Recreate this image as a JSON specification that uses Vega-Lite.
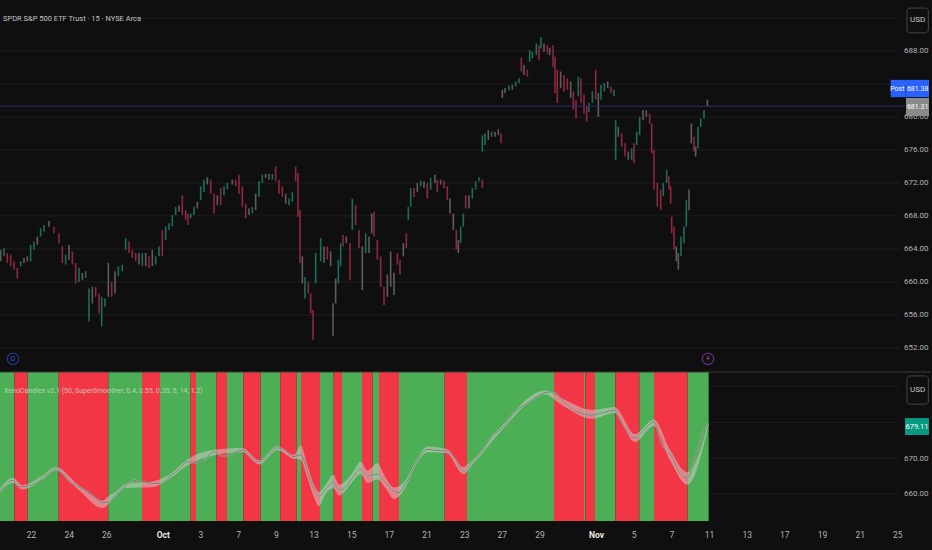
{"$schema":"https://vega.github.io/schema/vega-lite/v6.json","padding":{"left":-5,"top":0,"right":0,"bottom":0},"background":"#0f0f0f","spacing":0,"config":{"view":{"stroke":null},"concat":{"spacing":0},"font":"Roboto","text":{"font":"Roboto"}},"resolve":{"scale":{"color":"independent"}},
"datasets":{
"candles":[
{"t":-91,"p":663.9,"p2":662.5,"d":"n"},{"t":-81,"p":664.1,"p2":663.1,"d":"u"},{"t":-71,"p":663.5,"p2":662.3,"d":"d"},{"t":-61,"p":663.3,"p2":661.9,"d":"d"},{"t":-51,"p":662.5,"p2":661.5,"d":"d"},{"t":-41,"p":661.7,"p2":660.4,"d":"d"},{"t":-31,"p":662.5,"p2":661.9,"d":"u"},{"t":-21,"p":662.9,"p2":662.3,"d":"n"},{"t":-11,"p":663.1,"p2":662.5,"d":"n"},{"t":-1,"p":664.5,"p2":662.5,"d":"u"},{"t":9,"p":664.9,"p2":663.9,"d":"u"},{"t":19,"p":665.5,"p2":664.5,"d":"n"},{"t":29,"p":666.5,"p2":665.5,"d":"u"},{"t":39,"p":666.9,"p2":666.1,"d":"u"},{"t":54,"p":667.4,"p2":666.7,"d":"n"},{"t":69,"p":666.7,"p2":665.9,"d":"d"},{"t":84,"p":665.9,"p2":664.7,"d":"d"},{"t":94,"p":664.3,"p2":662.3,"d":"d"},{"t":104,"p":663.3,"p2":662.1,"d":"u"},{"t":114,"p":664.5,"p2":662.7,"d":"n"},{"t":124,"p":663.7,"p2":662.1,"d":"d"},{"t":134,"p":662.3,"p2":659.8,"d":"d"},{"t":144,"p":661.7,"p2":660.0,"d":"u"},{"t":154,"p":661.1,"p2":660.2,"d":"n"},{"t":164,"p":661.3,"p2":660.5,"d":"u"},{"t":174,"p":659.2,"p2":655.2,"d":"u"},{"t":184,"p":659.4,"p2":657.4,"d":"n"},{"t":194,"p":659.4,"p2":658.2,"d":"d"},{"t":204,"p":658.6,"p2":656.2,"d":"d"},{"t":212,"p":658.2,"p2":654.6,"d":"u"},{"t":222,"p":658.0,"p2":657.0,"d":"u"},{"t":232,"p":662.3,"p2":658.2,"d":"n"},{"t":242,"p":660.0,"p2":658.2,"d":"d"},{"t":252,"p":661.3,"p2":658.6,"d":"n"},{"t":262,"p":661.9,"p2":660.7,"d":"u"},{"t":274,"p":662.1,"p2":661.3,"d":"u"},{"t":284,"p":665.3,"p2":663.9,"d":"u"},{"t":294,"p":664.9,"p2":663.5,"d":"d"},{"t":304,"p":663.9,"p2":662.9,"d":"d"},{"t":314,"p":663.5,"p2":662.5,"d":"d"},{"t":324,"p":663.5,"p2":662.1,"d":"n"},{"t":334,"p":663.5,"p2":661.9,"d":"u"},{"t":344,"p":663.5,"p2":661.9,"d":"n"},{"t":354,"p":663.1,"p2":661.7,"d":"d"},{"t":364,"p":663.9,"p2":661.9,"d":"n"},{"t":374,"p":663.1,"p2":662.1,"d":"u"},{"t":384,"p":664.3,"p2":663.1,"d":"u"},{"t":394,"p":666.3,"p2":663.1,"d":"d"},{"t":404,"p":666.7,"p2":665.1,"d":"u"},{"t":414,"p":667.1,"p2":666.3,"d":"u"},{"t":424,"p":668.1,"p2":666.7,"d":"u"},{"t":434,"p":669.1,"p2":668.1,"d":"u"},{"t":444,"p":669.3,"p2":668.5,"d":"n"},{"t":454,"p":670.5,"p2":668.1,"d":"d"},{"t":464,"p":668.7,"p2":667.5,"d":"d"},{"t":471,"p":668.3,"p2":666.9,"d":"d"},{"t":479,"p":668.3,"p2":667.7,"d":"u"},{"t":489,"p":669.1,"p2":668.1,"d":"u"},{"t":499,"p":669.7,"p2":668.9,"d":"n"},{"t":509,"p":671.6,"p2":669.9,"d":"u"},{"t":519,"p":672.4,"p2":670.9,"d":"u"},{"t":529,"p":672.7,"p2":671.8,"d":"n"},{"t":539,"p":672.4,"p2":670.7,"d":"d"},{"t":549,"p":670.7,"p2":668.3,"d":"d"},{"t":559,"p":670.5,"p2":669.3,"d":"n"},{"t":569,"p":671.4,"p2":669.3,"d":"d"},{"t":579,"p":671.6,"p2":670.5,"d":"u"},{"t":589,"p":672.0,"p2":671.2,"d":"u"},{"t":604,"p":672.4,"p2":671.8,"d":"n"},{"t":614,"p":672.4,"p2":671.6,"d":"d"},{"t":624,"p":673.0,"p2":670.7,"d":"d"},{"t":634,"p":671.6,"p2":669.1,"d":"d"},{"t":644,"p":669.5,"p2":667.7,"d":"d"},{"t":654,"p":668.9,"p2":668.1,"d":"n"},{"t":664,"p":669.1,"p2":668.3,"d":"u"},{"t":674,"p":670.7,"p2":668.7,"d":"n"},{"t":684,"p":672.2,"p2":670.3,"d":"u"},{"t":694,"p":673.0,"p2":672.0,"d":"u"},{"t":704,"p":673.1,"p2":672.6,"d":"n"},{"t":714,"p":673.1,"p2":672.4,"d":"n"},{"t":724,"p":673.1,"p2":672.4,"d":"u"},{"t":734,"p":674.0,"p2":672.2,"d":"d"},{"t":744,"p":672.4,"p2":670.7,"d":"d"},{"t":754,"p":671.6,"p2":670.3,"d":"d"},{"t":764,"p":670.7,"p2":669.5,"d":"n"},{"t":774,"p":670.1,"p2":669.3,"d":"u"},{"t":784,"p":670.9,"p2":669.7,"d":"u"},{"t":794,"p":674.0,"p2":672.2,"d":"d"},{"t":801,"p":673.2,"p2":667.9,"d":"d"},{"t":807,"p":668.7,"p2":662.3,"d":"d"},{"t":814,"p":663.1,"p2":659.8,"d":"n"},{"t":822,"p":660.6,"p2":658.0,"d":"u"},{"t":832,"p":660.0,"p2":658.6,"d":"d"},{"t":839,"p":658.6,"p2":656.2,"d":"d"},{"t":846,"p":656.6,"p2":653.0,"d":"d"},{"t":854,"p":663.5,"p2":659.8,"d":"u"},
{"t":869,"p":665.3,"p2":662.5,"d":"u"},{"t":879,"p":664.3,"p2":662.3,"d":"n"},{"t":889,"p":664.3,"p2":662.7,"d":"d"},{"t":899,"p":663.7,"p2":661.9,"d":"n"},{"t":906,"p":657.4,"p2":653.4,"d":"n"},{"t":914,"p":660.4,"p2":657.4,"d":"n"},{"t":922,"p":662.7,"p2":659.8,"d":"u"},{"t":929,"p":664.7,"p2":661.9,"d":"u"},{"t":936,"p":665.7,"p2":664.3,"d":"d"},{"t":946,"p":665.5,"p2":664.7,"d":"n"},{"t":957,"p":664.7,"p2":660.2,"d":"d"},{"t":964,"p":670.1,"p2":666.3,"d":"u"},{"t":974,"p":669.3,"p2":666.9,"d":"d"},{"t":984,"p":666.3,"p2":664.1,"d":"d"},{"t":994,"p":664.3,"p2":659.0,"d":"n"},{"t":1004,"p":665.9,"p2":663.5,"d":"u"},{"t":1014,"p":665.5,"p2":663.5,"d":"n"},{"t":1022,"p":668.3,"p2":665.9,"d":"n"},{"t":1029,"p":668.5,"p2":665.5,"d":"d"},{"t":1039,"p":665.1,"p2":662.7,"d":"d"},{"t":1049,"p":663.1,"p2":659.4,"d":"d"},{"t":1059,"p":659.4,"p2":657.2,"d":"d"},{"t":1069,"p":660.9,"p2":658.2,"d":"n"},{"t":1079,"p":663.7,"p2":659.4,"d":"n"},{"t":1089,"p":661.1,"p2":658.4,"d":"n"},{"t":1099,"p":663.5,"p2":662.1,"d":"d"},{"t":1107,"p":662.7,"p2":660.9,"d":"d"},{"t":1117,"p":664.7,"p2":663.1,"d":"n"},{"t":1126,"p":665.9,"p2":664.1,"d":"d"},{"t":1132,"p":669.1,"p2":667.5,"d":"u"},{"t":1139,"p":671.4,"p2":669.1,"d":"u"},{"t":1149,"p":671.4,"p2":670.3,"d":"d"},{"t":1159,"p":672.0,"p2":670.9,"d":"n"},{"t":1169,"p":672.3,"p2":671.6,"d":"u"},{"t":1179,"p":672.2,"p2":671.4,"d":"n"},{"t":1189,"p":672.0,"p2":670.1,"d":"d"},{"t":1199,"p":672.6,"p2":671.2,"d":"u"},{"t":1212,"p":673.0,"p2":672.0,"d":"n"},{"t":1219,"p":672.4,"p2":670.9,"d":"d"},{"t":1229,"p":672.4,"p2":671.8,"d":"n"},{"t":1239,"p":672.3,"p2":671.4,"d":"d"},{"t":1249,"p":671.6,"p2":669.9,"d":"d"},{"t":1257,"p":670.1,"p2":668.3,"d":"n"},{"t":1267,"p":668.3,"p2":666.3,"d":"n"},{"t":1276,"p":666.3,"p2":663.9,"d":"d"},{"t":1282,"p":665.1,"p2":663.5,"d":"n"},{"t":1289,"p":666.7,"p2":664.7,"d":"u"},{"t":1297,"p":668.3,"p2":666.7,"d":"u"},{"t":1304,"p":670.5,"p2":668.9,"d":"d"},{"t":1314,"p":670.5,"p2":668.9,"d":"n"},{"t":1324,"p":671.4,"p2":670.1,"d":"u"},{"t":1334,"p":672.2,"p2":671.2,"d":"u"},{"t":1344,"p":672.7,"p2":672.2,"d":"u"},{"t":1354,"p":672.4,"p2":671.4,"d":"d"},
{"t":1354,"p":677.8,"p2":675.8,"d":"u"},{"t":1362,"p":678.0,"p2":676.6,"d":"u"},{"t":1372,"p":678.4,"p2":677.2,"d":"n"},{"t":1382,"p":678.2,"p2":677.6,"d":"u"},{"t":1392,"p":678.2,"p2":677.6,"d":"n"},{"t":1402,"p":678.5,"p2":677.8,"d":"n"},{"t":1410,"p":678.0,"p2":676.8,"d":"d"},{"t":1414,"p":683.3,"p2":682.3,"d":"n"},{"t":1422,"p":683.5,"p2":682.9,"d":"n"},{"t":1434,"p":683.8,"p2":683.2,"d":"u"},{"t":1444,"p":683.9,"p2":683.3,"d":"n"},{"t":1454,"p":684.3,"p2":683.7,"d":"u"},{"t":1464,"p":684.7,"p2":684.1,"d":"u"},{"t":1471,"p":687.2,"p2":685.5,"d":"d"},{"t":1479,"p":686.3,"p2":685.1,"d":"n"},{"t":1489,"p":685.7,"p2":684.9,"d":"d"},{"t":1496,"p":688.1,"p2":686.7,"d":"u"},{"t":1504,"p":687.9,"p2":687.1,"d":"u"},{"t":1516,"p":688.9,"p2":687.5,"d":"u"},{"t":1524,"p":688.7,"p2":686.9,"d":"d"},{"t":1530,"p":689.7,"p2":688.3,"d":"u"},{"t":1539,"p":688.9,"p2":687.9,"d":"n"},{"t":1549,"p":688.7,"p2":687.7,"d":"d"},{"t":1556,"p":688.4,"p2":687.5,"d":"n"},{"t":1566,"p":688.7,"p2":686.1,"d":"d"},{"t":1572,"p":687.3,"p2":682.9,"d":"d"},{"t":1579,"p":685.7,"p2":681.7,"d":"d"},{"t":1589,"p":685.5,"p2":683.5,"d":"n"},{"t":1599,"p":685.1,"p2":683.1,"d":"d"},{"t":1609,"p":684.7,"p2":683.3,"d":"d"},{"t":1619,"p":684.3,"p2":682.3,"d":"n"},{"t":1627,"p":683.1,"p2":680.9,"d":"d"},{"t":1635,"p":682.1,"p2":679.8,"d":"d"},{"t":1642,"p":684.9,"p2":682.5,"d":"u"},{"t":1650,"p":684.7,"p2":681.7,"d":"d"},{"t":1659,"p":682.7,"p2":680.4,"d":"d"},{"t":1667,"p":681.3,"p2":679.4,"d":"d"},{"t":1674,"p":681.7,"p2":680.6,"d":"u"},{"t":1684,"p":683.1,"p2":681.7,"d":"u"},{"t":1694,"p":685.7,"p2":682.1,"d":"d"},{"t":1702,"p":682.9,"p2":680.0,"d":"n"},{"t":1710,"p":683.9,"p2":682.1,"d":"u"},{"t":1720,"p":684.1,"p2":683.1,"d":"u"},{"t":1730,"p":684.3,"p2":683.5,"d":"n"},{"t":1740,"p":683.7,"p2":682.9,"d":"d"},{"t":1749,"p":683.3,"p2":682.5,"d":"u"},
{"t":1754,"p":679.6,"p2":674.8,"d":"u"},{"t":1762,"p":678.8,"p2":677.6,"d":"n"},{"t":1772,"p":678.0,"p2":676.4,"d":"d"},{"t":1782,"p":676.8,"p2":675.2,"d":"d"},{"t":1792,"p":675.8,"p2":674.8,"d":"n"},{"t":1802,"p":676.2,"p2":674.8,"d":"u"},{"t":1809,"p":676.8,"p2":674.4,"d":"d"},{"t":1817,"p":678.2,"p2":676.6,"d":"u"},{"t":1826,"p":680.0,"p2":677.8,"d":"u"},{"t":1836,"p":680.8,"p2":679.6,"d":"n"},{"t":1846,"p":680.8,"p2":680.0,"d":"n"},{"t":1856,"p":680.4,"p2":679.2,"d":"d"},{"t":1862,"p":679.2,"p2":675.6,"d":"d"},{"t":1869,"p":676.0,"p2":671.2,"d":"d"},{"t":1879,"p":672.0,"p2":669.1,"d":"d"},{"t":1889,"p":671.2,"p2":668.7,"d":"d"},{"t":1897,"p":672.0,"p2":670.4,"d":"u"},{"t":1907,"p":673.6,"p2":672.0,"d":"u"},{"t":1914,"p":672.8,"p2":671.2,"d":"d"},{"t":1919,"p":671.6,"p2":669.5,"d":"d"},{"t":1922,"p":667.9,"p2":665.9,"d":"d"},{"t":1929,"p":666.7,"p2":663.9,"d":"d"},{"t":1936,"p":664.3,"p2":662.5,"d":"n"},{"t":1942,"p":663.5,"p2":661.5,"d":"n"},{"t":1950,"p":665.5,"p2":663.1,"d":"u"},{"t":1959,"p":666.7,"p2":664.7,"d":"u"},{"t":1966,"p":669.9,"p2":666.7,"d":"u"},{"t":1974,"p":671.2,"p2":668.7,"d":"n"},{"t":1981,"p":679.2,"p2":676.8,"d":"n"},{"t":1989,"p":677.6,"p2":675.8,"d":"d"},{"t":1994,"p":676.4,"p2":675.2,"d":"n"},{"t":2001,"p":678.8,"p2":676.2,"d":"u"},{"t":2009,"p":679.8,"p2":678.8,"d":"u"},{"t":2019,"p":680.8,"p2":679.8,"d":"u"},{"t":2029,"p":682.1,"p2":681.3,"d":"n"}
],
"bands":[{"t":-96,"t2":-50,"s":"g","p":694.1,"p2":652.35},{"t":-50,"t2":-10,"s":"r","p":694.1,"p2":652.35},{"t":-10,"t2":83,"s":"g","p":694.1,"p2":652.35},{"t":83,"t2":232,"s":"r","p":694.1,"p2":652.35},{"t":232,"t2":333,"s":"g","p":694.1,"p2":652.35},{"t":333,"t2":387,"s":"r","p":694.1,"p2":652.35},{"t":387,"t2":479,"s":"g","p":694.1,"p2":652.35},{"t":479,"t2":495,"s":"r","p":694.1,"p2":652.35},{"t":495,"t2":556,"s":"g","p":694.1,"p2":652.35},{"t":556,"t2":588,"s":"r","p":694.1,"p2":652.35},{"t":588,"t2":637,"s":"g","p":694.1,"p2":652.35},{"t":637,"t2":689,"s":"r","p":694.1,"p2":652.35},{"t":689,"t2":748,"s":"g","p":694.1,"p2":652.35},{"t":748,"t2":797,"s":"r","p":694.1,"p2":652.35},{"t":797,"t2":810,"s":"g","p":694.1,"p2":652.35},{"t":810,"t2":867,"s":"r","p":694.1,"p2":652.35},{"t":867,"t2":908,"s":"g","p":694.1,"p2":652.35},{"t":908,"t2":933,"s":"r","p":694.1,"p2":652.35},{"t":933,"t2":993,"s":"g","p":694.1,"p2":652.35},{"t":993,"t2":1025,"s":"r","p":694.1,"p2":652.35},{"t":1025,"t2":1044,"s":"g","p":694.1,"p2":652.35},{"t":1044,"t2":1104,"s":"r","p":694.1,"p2":652.35},{"t":1104,"t2":1241,"s":"g","p":694.1,"p2":652.35},{"t":1241,"t2":1308,"s":"r","p":694.1,"p2":652.35},{"t":1308,"t2":1569,"s":"g","p":694.1,"p2":652.35},{"t":1569,"t2":1659,"s":"r","p":694.1,"p2":652.35},{"t":1659,"t2":1663,"s":"g","p":694.1,"p2":652.35},{"t":1663,"t2":1692,"s":"r","p":694.1,"p2":652.35},{"t":1692,"t2":1753,"s":"g","p":694.1,"p2":652.35},{"t":1753,"t2":1825,"s":"r","p":694.1,"p2":652.35},{"t":1825,"t2":1869,"s":"g","p":694.1,"p2":652.35},{"t":1869,"t2":1970,"s":"r","p":694.1,"p2":652.35},{"t":1970,"t2":2033,"s":"g","p":694.1,"p2":652.35}],
"osc":[{"t":-96,"p":660.56},{"t":-81,"p":661.87},{"t":-66,"p":663.36},{"t":-54,"p":663.73},{"t":-41,"p":662.43},{"t":-26,"p":661.96},{"t":-6,"p":662.24},{"t":14,"p":663.08},{"t":34,"p":664.48},{"t":54,"p":665.88},{"t":74,"p":667.0},{"t":89,"p":666.35},{"t":114,"p":663.55},{"t":144,"p":661.87},{"t":169,"p":660.56},{"t":194,"p":658.69},{"t":214,"p":657.5},{"t":234,"p":657.66},{"t":254,"p":659.81},{"t":284,"p":662.15},{"t":309,"p":663.73},{"t":334,"p":663.36},{"t":364,"p":662.89},{"t":389,"p":662.8},{"t":414,"p":664.67},{"t":444,"p":666.82},{"t":469,"p":668.96},{"t":494,"p":668.68},{"t":519,"p":669.34},{"t":549,"p":671.77},{"t":574,"p":670.55},{"t":599,"p":671.02},{"t":634,"p":672.23},{"t":659,"p":670.55},{"t":684,"p":668.87},{"t":709,"p":670.55},{"t":739,"p":672.89},{"t":764,"p":671.77},{"t":789,"p":670.36},{"t":809,"p":670.83},{"t":829,"p":666.35},{"t":849,"p":661.21},{"t":864,"p":659.34},{"t":884,"p":661.21},{"t":907,"p":663.08},{"t":924,"p":661.21},{"t":934,"p":661.21},{"t":964,"p":664.48},{"t":989,"p":666.82},{"t":1009,"p":664.95},{"t":1039,"p":665.41},{"t":1064,"p":663.08},{"t":1089,"p":660.56},{"t":1104,"p":660.28},{"t":1124,"p":662.8},{"t":1150,"p":667.75},{"t":1170,"p":671.02},{"t":1191,"p":672.42},{"t":1216,"p":672.14},{"t":1247,"p":671.95},{"t":1272,"p":669.62},{"t":1297,"p":666.35},{"t":1323,"p":668.68},{"t":1353,"p":671.95},{"t":1384,"p":676.16},{"t":1409,"p":678.02},{"t":1455,"p":683.16},{"t":1491,"p":685.49},{"t":1542,"p":688.3},{"t":1567,"p":688.58},{"t":1593,"p":686.15},{"t":1644,"p":682.69},{"t":1684,"p":682.04},{"t":1715,"p":682.69},{"t":1750,"p":683.35},{"t":1776,"p":679.42},{"t":1812,"p":675.69},{"t":1837,"p":677.56},{"t":1868,"p":680.17},{"t":1893,"p":673.82},{"t":1918,"p":671.02},{"t":1954,"p":664.95},{"t":1969,"p":664.48},{"t":1995,"p":671.02},{"t":2020,"p":678.02},{"t":2032,"p":679.61}],
"oscband":[{"t":-96,"p":661.0,"p2":660.0},{"t":-54,"p":664.5,"p2":663.0},{"t":-26,"p":662.4,"p2":661.2},{"t":34,"p":665.0,"p2":664.0},{"t":74,"p":667.5,"p2":666.5},{"t":144,"p":662.3,"p2":661.0},{"t":214,"p":658.0,"p2":656.0},{"t":234,"p":659.5,"p2":657.2},{"t":254,"p":660.5,"p2":659.3},{"t":284,"p":662.7,"p2":661.6},{"t":364,"p":663.4,"p2":661.8},{"t":414,"p":665.3,"p2":664.1},{"t":469,"p":669.6,"p2":667.9},{"t":549,"p":672.3,"p2":670.8},{"t":634,"p":672.8,"p2":671.6},{"t":684,"p":669.4,"p2":668.2},{"t":739,"p":673.4,"p2":672.2},{"t":789,"p":670.9,"p2":669.7},{"t":809,"p":673.5,"p2":669.5},{"t":829,"p":668.0,"p2":664.5},{"t":849,"p":662.5,"p2":659.0},{"t":864,"p":660.5,"p2":656.5},{"t":884,"p":662.5,"p2":660.0},{"t":907,"p":665.3,"p2":661.5},{"t":924,"p":662.5,"p2":659.5},{"t":964,"p":665.8,"p2":663.3},{"t":989,"p":669.0,"p2":665.5},{"t":1009,"p":666.5,"p2":663.0},{"t":1039,"p":668.5,"p2":664.0},{"t":1064,"p":664.5,"p2":661.5},{"t":1089,"p":661.8,"p2":658.5},{"t":1124,"p":663.8,"p2":661.8},{"t":1150,"p":668.3,"p2":667.2},{"t":1191,"p":673.2,"p2":671.6},{"t":1247,"p":672.5,"p2":671.3},{"t":1297,"p":667.5,"p2":665.5},{"t":1323,"p":669.2,"p2":668.0},{"t":1409,"p":678.6,"p2":677.4},{"t":1542,"p":688.9,"p2":687.8},{"t":1593,"p":686.7,"p2":684.8},{"t":1684,"p":683.5,"p2":681.0},{"t":1750,"p":684.3,"p2":682.6},{"t":1812,"p":676.7,"p2":674.5},{"t":1868,"p":680.8,"p2":679.0},{"t":1918,"p":672.2,"p2":669.2},{"t":1969,"p":666.0,"p2":662.5},{"t":2032,"p":680.0,"p2":679.0}],
"grid1":[{"t":262,"t2":2604,"p":692},{"t":-96,"t2":2604,"p":688},{"t":-96,"t2":2604,"p":684},{"t":-96,"t2":2604,"p":680},{"t":-96,"t2":2604,"p":676},{"t":-96,"t2":2604,"p":672},{"t":-96,"t2":2604,"p":668},{"t":-96,"t2":2604,"p":664},{"t":-96,"t2":2604,"p":660},{"t":-96,"t2":2604,"p":656},{"t":-96,"t2":2604,"p":652}],
"grid2":[{"t":2033,"t2":2604,"p":690},{"t":2033,"t2":2604,"p":680},{"t":2033,"t2":2604,"p":670},{"t":2033,"t2":2604,"p":660}]
},
"vconcat":[
{"width":932,"height":371,
"encoding":{"x":{"field":"t","type":"quantitative","scale":{"domain":[-96,2700],"nice":false,"zero":false},"axis":null},"y":{"field":"p","type":"quantitative","scale":{"domain":[649.2,694.18],"nice":false,"zero":false},"axis":{"orient":"right","title":null,"values":[688,684,680,676,672,668,664,660,656,652],"format":".2f","ticks":false,"domain":false,"grid":false,"labelAlign":"right","labelPadding":-3,"labelColor":"#b4b4b4","labelFontSize":8,"labelFont":"Roboto"}}},
"layer":[
{"data":{"name":"grid1"},"mark":{"type":"rule","color":"#1f1f1f","strokeWidth":1},"encoding":{"x2":{"field":"t2"}}},
{"data":{"name":"candles"},"mark":{"type":"rule","strokeWidth":1.6,"opacity":0.85},"encoding":{"y2":{"field":"p2"},"color":{"field":"d","type":"nominal","legend":null,"scale":{"domain":["u","d","n"],"range":["#1d7f6c","#a82c45","#6e6a6a"]}}}},
{"data":{"values":[{"t":-96,"t2":2624,"p":681.31}]},"mark":{"type":"rule","color":"#2c2a72","strokeWidth":1},"encoding":{"x2":{"field":"t2"}}},
{"data":{"values":[{"t":2579,"t2":2624,"p":684.5,"p2":682.4},{"t":2625,"t2":2694,"p":684.5,"p2":682.4}]},"mark":{"type":"rect","color":"#2962ff"},"encoding":{"x2":{"field":"t2"},"y2":{"field":"p2"}}},
{"data":{"values":[{"t":2625,"t2":2694,"p":682.3,"p2":680.1}]},"mark":{"type":"rect","color":"#8a8a8a"},"encoding":{"x2":{"field":"t2"},"y2":{"field":"p2"}}},
{"data":{"values":[{"t":2628,"t2":2692,"p":693.2,"p2":690.2}]},"mark":{"type":"rect","fill":null,"stroke":"#454545","strokeWidth":1,"cornerRadius":3},"encoding":{"x2":{"field":"t2"},"y2":{"field":"p2"}}},
{"data":{"values":[{"t":2599,"p":683.45,"label":"Post"},{"t":2660,"p":683.45,"label":"681.38"},{"t":2660,"p":681.2,"label":"681.31"}]},"mark":{"type":"text","color":"#ffffff","fontSize":7,"align":"center","baseline":"middle"},"encoding":{"text":{"field":"label"}}},
{"data":{"values":[{"t":2660,"p":691.7,"label":"USD"}]},"mark":{"type":"text","color":"#c8c8c8","fontSize":8,"align":"center","baseline":"middle"},"encoding":{"text":{"field":"label"}}},
{"data":{"values":[{"t":-84,"p":691.9,"label":"SPDR S&P 500 ETF Trust · 15 · NYSE Arca"}]},"mark":{"type":"text","color":"#c4c4c4","fontSize":7.5,"align":"left","baseline":"middle"},"encoding":{"text":{"field":"label"}}},
{"data":{"values":[{"t":-54,"p":650.67}]},"mark":{"type":"point","shape":"circle","size":130,"filled":false,"color":"#2b45c8","strokeWidth":1.2}},
{"data":{"values":[{"t":2031,"p":650.67}]},"mark":{"type":"point","shape":"circle","size":130,"filled":false,"color":"#8a3fc0","strokeWidth":1.2}},
{"data":{"values":[{"t":-54,"p":650.67,"label":"D"}]},"mark":{"type":"text","color":"#2b55e0","fontSize":7,"align":"center","baseline":"middle"},"encoding":{"text":{"field":"label"}}},
{"data":{"values":[{"t":2031,"p":650.67,"label":"⚡"}]},"mark":{"type":"text","color":"#e0609a","font":"DejaVu Sans","fontSize":7.5,"align":"center","baseline":"middle"},"encoding":{"text":{"field":"label"}}}
]},
{"width":932,"height":149,
"encoding":{"x":{"field":"t","type":"quantitative","scale":{"domain":[-96,2700],"nice":false,"zero":false},"axis":{"title":null,"values":[0,113,226,395.5,508.5,621.5,734.5,847.5,960.5,1073.5,1186.5,1299.5,1412.5,1525.5,1695,1808,1921,2034,2147,2260,2373,2486,2599],"labelExpr":"{'0':'22','113':'24','226':'26','395.5':'Oct','508.5':'3','621.5':'7','734.5':'9','847.5':'13','960.5':'15','1073.5':'17','1186.5':'21','1299.5':'23','1412.5':'27','1525.5':'29','1695':'Nov','1808':'5','1921':'7','2034':'11','2147':'13','2260':'17','2373':'19','2486':'21','2599':'25'}[datum.value]","ticks":false,"domain":false,"grid":false,"labelPadding":9,"labelFontSize":8.5,"labelFont":"Roboto","labelColor":{"condition":{"test":"datum.value===395.5||datum.value===1695","value":"#e8e8e8"},"value":"#b4b4b4"},"labelFontWeight":{"condition":{"test":"datum.value===395.5||datum.value===1695","value":"bold"},"value":"normal"},"minExtent":30,"maxExtent":30,"labelFlush":false}},"y":{"field":"p","type":"quantitative","scale":{"domain":[652.35,694.1],"nice":false,"zero":false},"axis":{"orient":"right","title":null,"values":[670,660],"format":".2f","ticks":false,"domain":false,"grid":false,"labelAlign":"right","labelPadding":-3,"labelColor":"#b4b4b4","labelFontSize":8,"labelFont":"Roboto"}}},
"layer":[
{"data":{"name":"grid2"},"mark":{"type":"rule","color":"#1f1f1f","strokeWidth":1},"encoding":{"x2":{"field":"t2"}}},
{"data":{"name":"bands"},"mark":{"type":"rect"},"encoding":{"x2":{"field":"t2"},"y2":{"field":"p2"},"color":{"field":"s","type":"nominal","legend":null,"scale":{"domain":["g","r"],"range":["#4caf55","#f23645"]}}}},
{"data":{"name":"oscband"},"mark":{"type":"area","color":"#d9cfd0","opacity":0.5,"interpolate":"monotone"},"encoding":{"y2":{"field":"p2"}}},
{"data":{"name":"osc"},"mark":{"type":"line","color":"#b9c2b9","strokeWidth":1.6,"opacity":0.85,"interpolate":"monotone"}},
{"data":{"name":"osc"},"mark":{"type":"line","color":"#46564c","strokeWidth":0.7,"opacity":0.85,"interpolate":"monotone"}},
{"data":{"values":[{"t":-96,"t2":2700,"p":694.1}]},"mark":{"type":"rule","color":"#3a3a3a","strokeWidth":1},"encoding":{"x2":{"field":"t2"}}},
{"data":{"values":[{"t":2622,"t2":2694,"p":681.2,"p2":676.45}]},"mark":{"type":"rect","color":"#089981"},"encoding":{"x2":{"field":"t2"},"y2":{"field":"p2"}}},
{"data":{"values":[{"t":2628,"t2":2692,"p":693.0,"p2":685.1}]},"mark":{"type":"rect","fill":null,"stroke":"#454545","strokeWidth":1,"cornerRadius":3},"encoding":{"x2":{"field":"t2"},"y2":{"field":"p2"}}},
{"data":{"values":[{"t":2660,"p":689,"label":"USD"}]},"mark":{"type":"text","color":"#c8c8c8","fontSize":8,"align":"center","baseline":"middle"},"encoding":{"text":{"field":"label"}}},
{"data":{"values":[{"t":2658,"p":678.8,"label":"679.11"}]},"mark":{"type":"text","color":"#ffffff","fontSize":7.5,"align":"center","baseline":"middle"},"encoding":{"text":{"field":"label"}}},
{"data":{"values":[{"t":-81,"p":688.8,"label":"XenoCandles v2.1 (50, SuperSmoother, 0.4, 0.55, 0.35, 5, 14, 1.2)"}]},"mark":{"type":"text","color":"#cfe3cf","opacity":0.75,"fontSize":7,"align":"left","baseline":"middle"},"encoding":{"text":{"field":"label"}}}
]}
]}
